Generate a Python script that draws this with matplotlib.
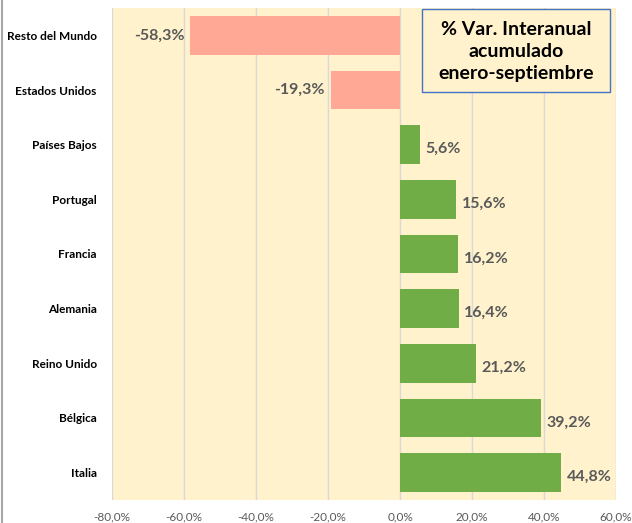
import matplotlib.pyplot as plt
from matplotlib.patches import Rectangle
from matplotlib.ticker import FuncFormatter

plt.rcParams['font.family'] = ['Lato', 'DejaVu Sans']

# datos: % variacion interanual acumulado enero-septiembre
paises = ['Resto del Mundo', 'Estados Unidos', 'Países Bajos', 'Portugal', 'Francia',
          'Alemania', 'Reino Unido', 'Bélgica', 'Italia']
valores = [-58.3, -19.3, 5.6, 15.6, 16.2, 16.4, 21.2, 39.2, 44.8]
ticks_x = [-80, -60, -40, -20, 0, 20, 40, 60]

def fmt(v):
    return f'{v:.1f}'.replace('.', ',') + '%'

fig = plt.figure(figsize=(6.32, 5.23), dpi=100)
ax = fig.add_axes([112/632, 1-500/523, (616-112)/632, 492/523])
ax.set_facecolor('#FFF2CC')

ypos = list(range(len(paises)))
colores = ['#FFA896' if v < 0 else '#70AD47' for v in valores]
ax.barh(ypos, valores, height=0.71, color=colores, zorder=3)

for y, v in zip(ypos, valores):
    if v < 0:
        ax.text(v - 1.5, y, fmt(v), ha='right', va='center', fontsize=11.5,
                fontweight='bold', color='#595959', zorder=4)
    else:
        ax.text(v + 1.5, y + 0.08, fmt(v), ha='left', va='center', fontsize=11.5,
                fontweight='bold', color='#595959', zorder=4)

ax.set_xlim(-80, 60)
ax.set_ylim(len(paises) - 0.5, -0.5)
ax.set_xticks(ticks_x)
ax.xaxis.set_major_formatter(FuncFormatter(lambda v, p: fmt(v)))
ax.set_yticks(ypos)
ax.set_yticklabels(paises, fontsize=8.5, fontweight='bold')
ax.tick_params(axis='both', length=0)
ax.tick_params(axis='x', labelsize=8.5, labelcolor='#595959', pad=8)
ax.tick_params(axis='y', pad=11)
ax.grid(axis='x', color='#D9D9D9', linewidth=1, zorder=1)
for s in ax.spines.values():
    s.set_visible(False)

# cuadro de titulo
ax.add_patch(Rectangle((0.615, 0.829), 0.373, 0.169, transform=ax.transAxes,
                       facecolor='#FFF2CC', edgecolor='#4472C4', linewidth=1,
                       zorder=5, clip_on=False))
ax.text(0.8015, 0.912, '% Var. Interanual\nacumulado\nenero-septiembre',
        transform=ax.transAxes, ha='center', va='center', fontsize=14,
        fontweight='bold', color='black', linespacing=1.35, zorder=6)

# borde izquierdo del grafico
fig.add_artist(plt.Line2D([0.003, 0.003], [0, 1], color='#A6A6A6', linewidth=1.5))

fig.savefig('out.png', dpi=100)
